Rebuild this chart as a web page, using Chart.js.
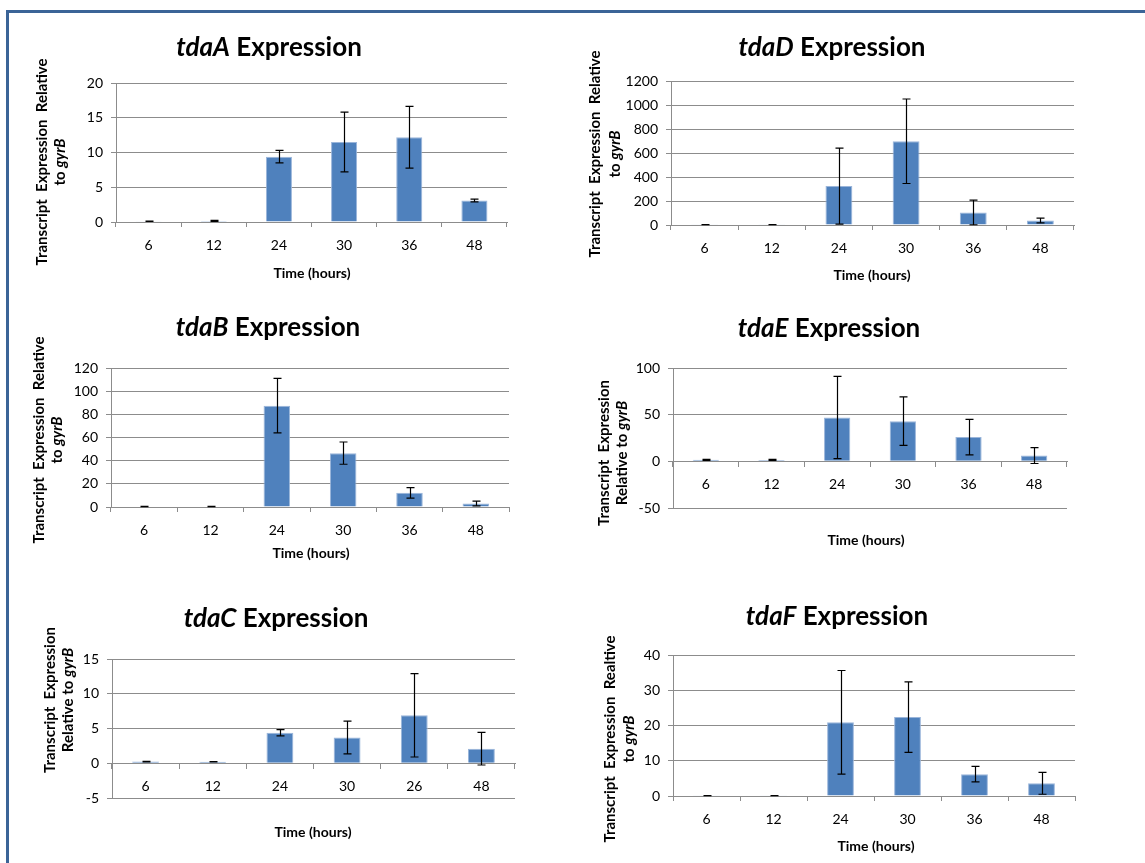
<!DOCTYPE html>
<html><head><meta charset="utf-8">
<script src="https://cdn.jsdelivr.net/npm/chart.js@4.4.1/dist/chart.umd.min.js"></script>
<style>
html,body{margin:0;padding:0;background:#fff;}
body{width:1145px;height:863px;position:relative;overflow:hidden;}
#frame{position:absolute;left:6px;top:10px;width:1200px;height:900px;border-left:3px solid #3b6497;border-top:3px solid #3b6497;}
canvas{position:absolute;}
</style></head><body>
<div id="frame"></div>
<canvas id="cA"></canvas><canvas id="cD"></canvas>
<canvas id="cB"></canvas><canvas id="cE"></canvas>
<canvas id="cC"></canvas><canvas id="cF"></canvas>
<script>
// ---------- data ----------
const hours = ['6', '12', '24', '30', '36', '48'];
const hoursC = ['6', '12', '24', '30', '26', '48'];

const tdaA = [0.1, 0.15, 9.4, 11.5, 12.2, 3.1];
const tdaA_err = [0.03, 0.08, 0.9, 4.3, 4.45, 0.2];
const tdaA_ticks = [0, 5, 10, 15, 20];

const tdaD = [3, 3, 324, 698, 105, 38];
const tdaD_err = [1, 1, 316, 352, 103, 20];
const tdaD_ticks = [0, 200, 400, 600, 800, 1000, 1200];

const tdaB = [0.5, 0.5, 87.5, 46.5, 12.2, 3];
const tdaB_err = [0.1, 0.1, 23.5, 9.6, 4.5, 2];
const tdaB_ticks = [0, 20, 40, 60, 80, 100, 120];

const tdaE = [1.6, 1.5, 47, 43, 26, 6.2];
const tdaE_err = [0.6, 0.6, 44, 26, 19, 8.5];
const tdaE_ticks = [-50, 0, 50, 100];

const tdaC = [0.24, 0.22, 4.4, 3.7, 6.9, 2.1];
const tdaC_err = [0.03, 0.03, 0.45, 2.35, 6.0, 2.35];
const tdaC_ticks = [-5, 0, 5, 10, 15];

const tdaF = [0.1, 0.1, 20.9, 22.4, 6.2, 3.6];
const tdaF_err = [0.02, 0.02, 14.7, 10, 2.2, 3.1];
const tdaF_ticks = [0, 10, 20, 30, 40];

// ---------- layout / style ----------
const FONT = 'Lato, "Open Sans", sans-serif';
const GRID = '#8c8c8c';
const BAR = '#4f81bd';

const panels = [
  {id:'cA', gene:'tdaA', labels:hours, data:tdaA, err:tdaA_err, ticks:tdaA_ticks, zeroAxis:false,
   box:[10,14,560,284], plot:[116,83,507,222], title:[269,48], xtitle:[312,273],
   ytitle:{x:[42,60], cy:162, lines:[[['Transcript  Expression  Relative',0]],[['to ',0],['gyrB',1]]]}},
  {id:'cD', gene:'tdaD', labels:hours, data:tdaD, err:tdaD_err, ticks:tdaD_ticks, zeroAxis:false,
   box:[572,14,573,284], plot:[671,81,1074,225], title:[832,48], xtitle:[872,275],
   ytitle:{x:[595,615], cy:154, lines:[[['Transcript  Expression  Relative',0]],[['to ',0],['gyrB',1]]]}},
  {id:'cB', gene:'tdaB', labels:hours, data:tdaB, err:tdaB_err, ticks:tdaB_ticks, zeroAxis:false,
   box:[10,298,560,282], plot:[111,368,509,507], title:[268,328], xtitle:[311,553],
   ytitle:{x:[39,57], cy:440, lines:[[['Transcript  Expression  Relative',0]],[['to ',0],['gyrB',1]]]}},
  {id:'cE', gene:'tdaE', labels:hours, data:tdaE, err:tdaE_err, ticks:tdaE_ticks, zeroAxis:true,
   box:[572,298,573,282], plot:[673,368,1067,508], title:[829,329], xtitle:[866,540],
   ytitle:{x:[604,622], cy:453, lines:[[['Transcript  Expression',0]],[['Relative to ',0],['gyrB',1]]]}},
  {id:'cC', gene:'tdaC', labels:hoursC, data:tdaC, err:tdaC_err, ticks:tdaC_ticks, zeroAxis:true,
   box:[10,580,560,283], plot:[112,659,515,798], title:[276,619], xtitle:[313,832],
   ytitle:{x:[50,68], cy:700, lines:[[['Transcript  Expression',0]],[['Relative to ',0],['gyrB',1]]]}},
  {id:'cF', gene:'tdaF', labels:hours, data:tdaF, err:tdaF_err, ticks:tdaF_ticks, zeroAxis:false,
   box:[572,580,573,283], plot:[673,655,1075,796], title:[837,617], xtitle:[876,846],
   ytitle:{x:[610,629], cy:739, lines:[[['Transcript  Expression  Realtive',0]],[['to ',0],['gyrB',1]]]}}
];

function drawSegments(ctx, segs, cx, cy, fonts) {
  let total = 0;
  segs.forEach(s => { ctx.font = fonts[s[1]]; total += ctx.measureText(s[0]).width; });
  let x = cx - total / 2;
  ctx.textAlign = 'left';
  ctx.textBaseline = 'middle';
  segs.forEach(s => { ctx.font = fonts[s[1]]; ctx.fillText(s[0], x, cy); x += ctx.measureText(s[0]).width; });
}

function makeChart(p) {
  const canvas = document.getElementById(p.id);
  const [cx, cy, cw, ch] = p.box;
  canvas.style.left = cx + 'px';
  canvas.style.top = cy + 'px';
  canvas.width = cw; canvas.height = ch;
  canvas.style.width = cw + 'px'; canvas.style.height = ch + 'px';
  const [L, T, R, B] = p.plot;
  const YW = 62;             // fixed y-axis box width
  const XH = p.zeroAxis ? 0 : 34;  // fixed x-axis box height
  const padding = {left: L - cx - YW, top: T - cy, right: cx + cw - R, bottom: cy + ch - B - XH};

  const textPlugin = {
    id: 'panelText',
    afterDraw(chart) {
      const ctx = chart.ctx;
      ctx.save();
      ctx.fillStyle = '#000';
      drawSegments(ctx, [[p.gene, 1], [' Expression', 0]], p.title[0] - cx, p.title[1] - cy,
        ['bold 26px ' + FONT, 'italic bold 26px ' + FONT]);
      drawSegments(ctx, [['Time (hours)', 0]], p.xtitle[0] - cx, p.xtitle[1] - cy, ['bold 14px ' + FONT]);
      p.ytitle.lines.forEach((segs, i) => {
        ctx.save();
        ctx.translate(p.ytitle.x[i] - cx, p.ytitle.cy - cy);
        ctx.rotate(-Math.PI / 2);
        drawSegments(ctx, segs, 0, 0, ['bold 15px ' + FONT, 'italic bold 15px ' + FONT]);
        ctx.restore();
      });
      ctx.restore();
    }
  };

  const errPlugin = {
    id: 'errorBars',
    afterDatasetsDraw(chart) {
      const ctx = chart.ctx;
      const ys = chart.scales.y;
      const meta = chart.getDatasetMeta(0);
      const ds = chart.data.datasets[0];
      ctx.save();
      ctx.strokeStyle = '#000';
      ctx.lineWidth = 1.2;
      meta.data.forEach((el, i) => {
        const v = ds.data[i], e = ds.errors[i];
        const yt = ys.getPixelForValue(v + e), yb = ys.getPixelForValue(v - e);
        const x = Math.round(el.x) + 0.5;
        ctx.beginPath();
        ctx.moveTo(x, yt); ctx.lineTo(x, yb);
        ctx.moveTo(x - 4, yt); ctx.lineTo(x + 4, yt);
        ctx.moveTo(x - 4, yb); ctx.lineTo(x + 4, yb);
        ctx.stroke();
      });
      ctx.restore();
    }
  };

  const t = p.ticks;
  new Chart(canvas, {
    type: 'bar',
    data: {
      labels: p.labels,
      datasets: [{
        data: p.data,
        errors: p.err,
        backgroundColor: BAR,
        borderColor: '#9ab5da',
        borderWidth: 1,
        borderSkipped: 'start',
        categoryPercentage: 1.0,
        barPercentage: 0.4
      }]
    },
    options: {
      responsive: false,
      animation: false,
      devicePixelRatio: 1,
      layout: {padding: padding},
      plugins: {legend: {display: false}, tooltip: {enabled: false}, title: {display: false}},
      scales: {
        x: {
          position: p.zeroAxis ? {y: 0} : 'bottom',
          afterFit(s) { s.height = XH; },
          grid: {display: true, drawOnChartArea: false, drawTicks: true, tickLength: 5, offset: true, color: GRID, lineWidth: 1},
          border: {display: true, color: GRID, width: 1},
          ticks: {color: '#000', font: {family: FONT, size: 14}, padding: 10, maxRotation: 0, autoSkip: false}
        },
        y: {
          min: t[0], max: t[t.length - 1],
          afterFit(s) { s.width = YW; },
          afterBuildTicks(s) { s.ticks = t.map(v => ({value: v})); },
          grid: {color: GRID, lineWidth: 1, drawTicks: true, tickLength: 5},
          border: {display: true, color: GRID, width: 1},
          ticks: {color: '#000', font: {family: FONT, size: 14}, padding: 8, callback: v => String(v)}
        }
      }
    },
    plugins: [errPlugin, textPlugin]
  });
}

panels.forEach(makeChart);
</script>
</body></html>
